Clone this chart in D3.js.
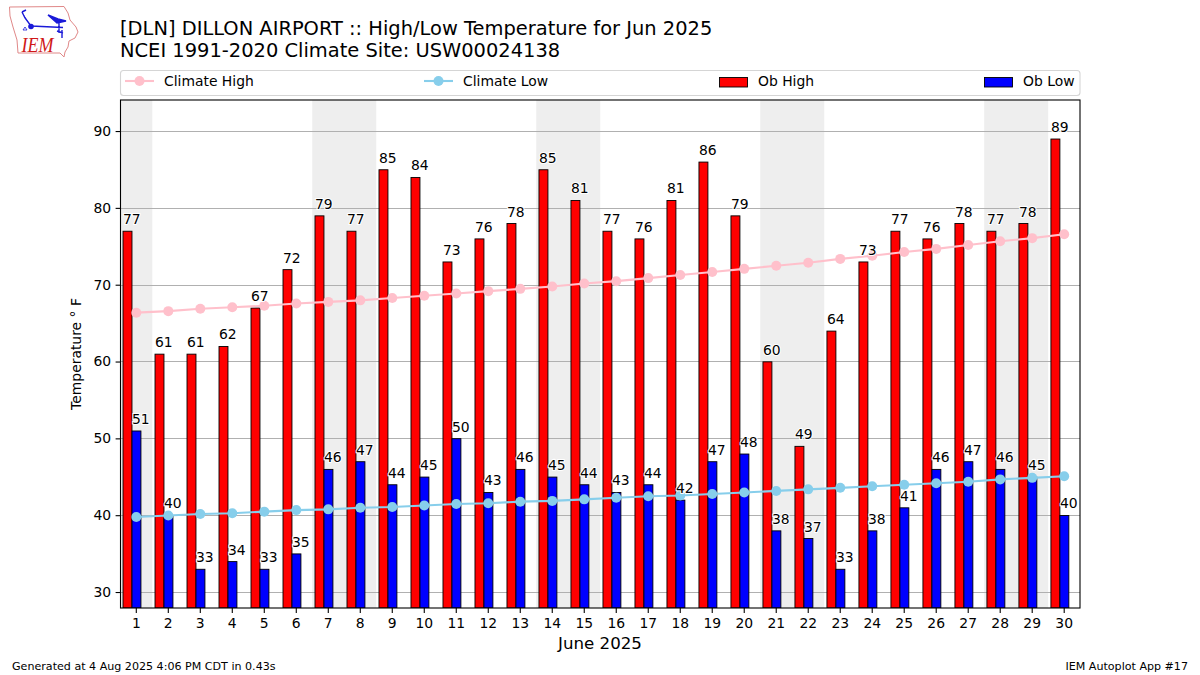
<!DOCTYPE html>
<html>
<head>
<meta charset="utf-8">
<script src="https://cdn.jsdelivr.net/npm/d3@7"></script>
<style>
  html, body { margin: 0; padding: 0; background: #fff; }
  svg { display: block; }
  text { font-family: "DejaVu Sans", sans-serif; fill: #000; }
</style>
</head>
<body>
<svg id="vis" width="1200" height="675"></svg>
<script>
const days = d3.range(1, 31);
const obHigh = [77, 61, 61, 62, 67, 72, 79, 77, 85, 84, 73, 76, 78, 85, 81, 77, 76, 81, 86, 79, 60, 49, 64, 73, 77, 76, 78, 77, 78, 89];
const obLow = [51, 40, 33, 34, 33, 35, 46, 47, 44, 45, 50, 43, 46, 45, 44, 43, 44, 42, 47, 48, 38, 37, 33, 38, 41, 46, 47, 46, 45, 40];
const climateHigh = [66.4, 66.6, 66.9, 67.1, 67.3, 67.6, 67.8, 68.0, 68.3, 68.6, 68.9, 69.2, 69.5, 69.8, 70.2, 70.5, 70.9, 71.3, 71.7, 72.1, 72.5, 72.9, 73.4, 73.8, 74.3, 74.7, 75.2, 75.7, 76.1, 76.6];
const climateLow = [39.8, 40.0, 40.2, 40.3, 40.5, 40.7, 40.8, 41.0, 41.1, 41.3, 41.5, 41.6, 41.8, 41.9, 42.1, 42.3, 42.5, 42.6, 42.8, 43.0, 43.2, 43.4, 43.6, 43.8, 44.0, 44.2, 44.4, 44.7, 44.9, 45.1];
const weekends = [[0.5, 1.5], [6.5, 8.5], [13.5, 15.5], [20.5, 22.5], [27.5, 29.5]];
const yTicks = [30, 40, 50, 60, 70, 80, 90];

const svg = d3.select("#vis");
const left = 120.5, right = 1080, top_ = 100, bottom = 608;

const x = d3.scaleLinear().domain([0.5, 30.5]).range([left - 0.2, right + 0.2]);
const y = d3.scaleLinear().domain([27.96, 94.08]).range([bottom, top_]);

// bar offsets are in days, relative to the tick
const highOff = -0.415, lowOff = -0.135, barW = 0.28;

svg.append("defs").append("clipPath").attr("id", "plot")
  .append("rect")
  .attr("x", left).attr("y", top_)
  .attr("width", right - left).attr("height", bottom - top_);

const plot = svg.append("g").attr("clip-path", "url(#plot)");

plot.selectAll("rect.weekend")
  .data(weekends)
  .join("rect")
  .attr("class", "weekend")
  .attr("x", d => x(d[0]))
  .attr("width", d => x(d[1]) - x(d[0]))
  .attr("y", top_)
  .attr("height", bottom - top_)
  .style("fill", "#eeeeee");

plot.selectAll("line.grid")
  .data(yTicks)
  .join("line")
  .attr("class", "grid")
  .attr("x1", left).attr("x2", right)
  .attr("y1", d => Math.floor(y(d)) + 0.5)
  .attr("y2", d => Math.floor(y(d)) + 0.5)
  .style("stroke", "#b0b0b0")
  .style("stroke-width", 1.1);

function bars(values, off, color) {
  plot.append("g").selectAll("rect")
    .data(values)
    .join("rect")
    .attr("x", (d, i) => x(days[i] + off))
    .attr("width", x(barW) - x(0))
    .attr("y", d => y(d))
    .attr("height", d => bottom - y(d))
    .style("fill", color)
    .style("stroke", "#000")
    .style("stroke-width", 0.9);
}
bars(obHigh, highOff, "#ff0000");
bars(obLow, lowOff, "#0000ff");

const line = d3.line().x((d, i) => x(days[i])).y(d => y(d));

function climate(values, color) {
  plot.append("path")
    .attr("d", line(values))
    .style("fill", "none")
    .style("stroke", color)
    .style("stroke-width", 2.1);
  plot.append("g").selectAll("circle")
    .data(values)
    .join("circle")
    .attr("cx", (d, i) => x(days[i]))
    .attr("cy", d => y(d))
    .attr("r", 5)
    .style("fill", color);
}
climate(climateHigh, "#ffc0cb");
climate(climateLow, "#87ceeb");

function barLabels(values, off) {
  svg.append("g").selectAll("text")
    .data(values)
    .join("text")
    .attr("x", (d, i) => x(days[i] + off))
    .attr("y", d => y(d) - 7)
    .text(d => d)
    .style("font-size", "13.9px")
    .style("paint-order", "stroke")
    .style("stroke", "#fff")
    .style("stroke-width", 2);
}
barLabels(obHigh, highOff);
barLabels(obLow, lowOff);

// axes
const xAxis = d3.axisBottom(x).tickValues(days).tickFormat(d3.format("d")).tickSize(4.9).tickPadding(5.5).offset(0);
const yAxis = d3.axisLeft(y).tickValues(yTicks).tickSize(4.9).tickPadding(4.5).offset(0.2);

const gx = svg.append("g").attr("transform", `translate(0,${bottom})`).call(xAxis);
const gy = svg.append("g").attr("transform", `translate(${left},0)`).call(yAxis);
[gx, gy].forEach(g => {
  g.select(".domain").remove();
  g.selectAll("line").style("stroke", "#000").style("stroke-width", 1.1);
  g.selectAll("text").style("font-size", "13.9px").style("font-family", '"DejaVu Sans", sans-serif');
});

svg.append("rect")
  .attr("x", left).attr("y", top_)
  .attr("width", right - left).attr("height", bottom - top_)
  .style("fill", "none")
  .style("stroke", "#000")
  .style("stroke-width", 1.1);

svg.append("text")
  .attr("x", 600).attr("y", 649)
  .attr("text-anchor", "middle")
  .style("font-size", "16.67px")
  .text("June 2025");

svg.append("text")
  .attr("transform", "translate(81,354) rotate(-90)")
  .attr("text-anchor", "middle")
  .style("font-size", "13.9px")
  .text("Temperature ° F");

// title
svg.append("text").attr("x", 120).attr("y", 35).style("font-size", "19.45px")
  .text("[DLN] DILLON AIRPORT :: High/Low Temperature for Jun 2025");
svg.append("text").attr("x", 120).attr("y", 57).style("font-size", "19.45px")
  .text("NCEI 1991-2020 Climate Site: USW00024138");

// legend
svg.append("rect")
  .attr("x", 120.5).attr("y", 70.5)
  .attr("width", 959.5).attr("height", 25)
  .attr("rx", 3)
  .style("fill", "#fff")
  .style("stroke", "#d5d5d5")
  .style("stroke-width", 1.1);

const legendItems = [
  { name: "Climate High", color: "#ffc0cb", at: 125, kind: "line" },
  { name: "Climate Low", color: "#87ceeb", at: 424, kind: "line" },
  { name: "Ob High", color: "#ff0000", at: 719, kind: "bar" },
  { name: "Ob Low", color: "#0000ff", at: 984, kind: "bar" }
];
const legend = svg.append("g").selectAll("g").data(legendItems).join("g")
  .attr("transform", d => `translate(${d.at},0)`);
legend.filter(d => d.kind === "line").append("line")
  .attr("x1", 0).attr("x2", 29).attr("y1", 81).attr("y2", 81)
  .style("stroke", d => d.color).style("stroke-width", 2.1);
legend.filter(d => d.kind === "line").append("circle")
  .attr("cx", 14.5).attr("cy", 81).attr("r", 5)
  .style("fill", d => d.color);
legend.filter(d => d.kind === "bar").append("rect")
  .attr("x", 0.5).attr("y", 77.5).attr("width", 28).attr("height", 9.5)
  .style("fill", d => d.color).style("stroke", "#000").style("stroke-width", 0.9);
legend.append("text")
  .attr("x", 39).attr("y", 86)
  .style("font-size", "13.9px")
  .text(d => d.name);

// footer
svg.append("text").attr("x", 12).attr("y", 670).style("font-size", "11.1px")
  .text("Generated at 4 Aug 2025 4:06 PM CDT in 0.43s");
svg.append("text").attr("x", 1188).attr("y", 670).attr("text-anchor", "end").style("font-size", "11.1px")
  .text("IEM Autoplot App #17");

// logo
const logo = svg.append("g");
logo.append("path")
  .attr("d", "M9.5,7 L64,6.5 L68,13 L70,20 L76,27 L78,32 L75,38 L69,41 L68,47 L65,52 L64,57 L60,53 L18,53 L17,40 L13,27 L10,16 Z")
  .style("fill", "#fff")
  .style("stroke", "#e08888")
  .style("stroke-width", 1);
logo.append("path")
  .attr("d", "M31,26 L63,27.5 M59,21 L59,33 M48,15 L58,19 L66,21 L57,23 Z M31,26 L25,18 L22,12 M22,12 L26,10 M57,31 L63,33 M62,30 L62,38")
  .style("fill", "#1a1ad8")
  .style("stroke", "#1a1ad8")
  .style("stroke-width", 1.4);
logo.append("circle").attr("cx", 31).attr("cy", 26.5).attr("r", 2.8).style("fill", "#1a1ad8");
logo.append("path")
  .attr("d", "M23,30 L25,27 L27,30 Z")
  .style("fill", "none").style("stroke", "#1a1ad8").style("stroke-width", 0.8);
logo.append("text")
  .attr("x", 21.5).attr("y", 51.5)
  .attr("textLength", 32)
  .attr("lengthAdjust", "spacingAndGlyphs")
  .style("font-family", '"Liberation Serif", serif')
  .style("font-style", "italic")
  .style("font-size", "22px")
  .style("fill", "#d01818")
  .text("IEM");
</script>
</body>
</html>
